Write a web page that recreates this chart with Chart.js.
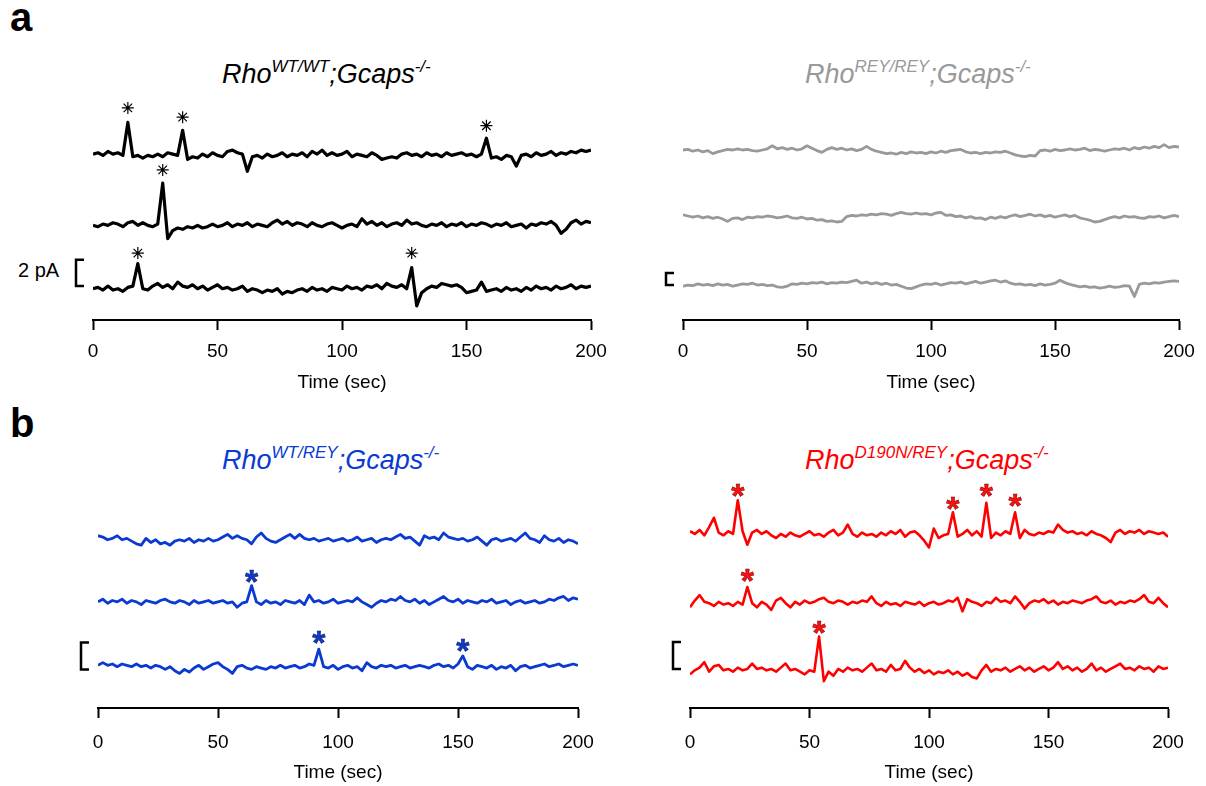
<!DOCTYPE html>
<html>
<head>
<meta charset="utf-8">
<script src="https://cdn.jsdelivr.net/npm/chart.js@4.4.1/dist/chart.umd.min.js"></script>
<style>
html, body { margin: 0; padding: 0; background: #fff; }
body { width: 1206px; height: 786px; position: relative; overflow: hidden; font-family: "Liberation Sans", Arial, sans-serif; }
canvas.panel { position: absolute; }
.lbl { position: absolute; font-weight: bold; font-size: 40px; line-height: 1; }
.ttl { position: absolute; font-style: italic; font-size: 27px; line-height: 1; white-space: nowrap; }
.ttl sup { font-size: 17px; vertical-align: baseline; position: relative; top: -11px; }
.bar { position: absolute; font-size: 20px; line-height: 1; }
</style>
</head>
<body>
<div class="lbl" style="left:10px;top:-3px;">a</div>
<div class="lbl" style="left:10px;top:403px;">b</div>

<div class="ttl" style="left:222px;top:61px;color:#000;">Rho<sup>WT/WT</sup>;Gcaps<sup>-/-</sup></div>
<div class="ttl" style="left:805px;top:61px;color:#999;">Rho<sup>REY/REY</sup>;Gcaps<sup>-/-</sup></div>
<div class="ttl" style="left:222px;top:447px;color:#0a3ad2;">Rho<sup>WT/REY</sup>;Gcaps<sup>-/-</sup></div>
<div class="ttl" style="left:805px;top:447px;color:#ff0000;">Rho<sup>D190N/REY</sup>;Gcaps<sup>-/-</sup></div>
<div class="bar" style="left:18px;top:260px;">2 pA</div>

<canvas class="panel" id="wtChart" width="640" height="400" style="left:0;top:0;"></canvas>
<canvas class="panel" id="reyChart" width="603" height="400" style="left:603px;top:0;"></canvas>
<canvas class="panel" id="hetChart" width="640" height="386" style="left:0;top:400px;"></canvas>
<canvas class="panel" id="d190Chart" width="603" height="386" style="left:603px;top:400px;"></canvas>

<script>
// ------------------------------------------------------
// sample times (sec) shared by every trace
// ------------------------------------------------------
const timeSec = [
  0, 2, 4, 6, 8, 10, 12, 14, 16, 18,
  20, 22, 24, 26, 28, 30, 32, 34, 36, 38,
  40, 42, 44, 46, 48, 50, 52, 54, 56, 58,
  60, 62, 64, 66, 68, 70, 72, 74, 76, 78,
  80, 82, 84, 86, 88, 90, 92, 94, 96, 98,
  100, 102, 104, 106, 108, 110, 112, 114, 116, 118,
  120, 122, 124, 126, 128, 130, 132, 134, 136, 138,
  140, 142, 144, 146, 148, 150, 152, 154, 156, 158,
  160, 162, 164, 166, 168, 170, 172, 174, 176, 178,
  180, 182, 184, 186, 188, 190, 192, 194, 196, 198,
  200
];

// ------------------------------------------------------
// current traces (pA, relative to each trace's baseline)
// ------------------------------------------------------
// a: Rho WT/WT
const wtTrace1 = [
  0.0, 0.1, -0.1, 0.2, 0.0, 0.1, -0.1, 2.4, -0.2, -0.1,
  -0.3, -0.1, -0.2, 0.0, -0.2, 0.1, 0.0, -0.1, 1.8, -0.4,
  -0.2, -0.3, 0.0, -0.2, 0.1, -0.1, -0.2, 0.2, 0.3, 0.1,
  0.0, -1.3, -0.2, -0.1, -0.3, 0.0, -0.2, -0.1, 0.1, -0.2,
  0.0, -0.1, 0.1, -0.2, 0.2, 0.0, 0.3, -0.1, 0.1, -0.1,
  0.0, 0.2, -0.2, 0.0, -0.1, -0.2, 0.1, -0.1, -0.4, -0.3,
  -0.2, -0.3, 0.0, 0.1, -0.1, 0.0, -0.2, 0.1, -0.1, 0.0,
  -0.2, 0.1, -0.1, 0.0, 0.1, -0.1, 0.0, -0.2, 0.0, 1.2,
  -0.3, -0.2, -0.4, -0.1, -0.2, -0.9, -0.1, 0.0, -0.2, 0.1,
  -0.1, 0.0, 0.2, -0.1, 0.1, 0.0, 0.2, 0.1, 0.3, 0.2,
  0.3
];
const wtTrace2 = [
  0.0, -0.1, 0.1, 0.0, 0.2, 0.1, -0.1, 0.2, 0.3, 0.0,
  0.2, 0.0, -0.1, 0.1, 3.2, -1.0, -0.4, -0.2, -0.3, -0.1,
  -0.2, 0.0, -0.2, -0.1, 0.1, -0.1, 0.0, 0.2, -0.1, 0.1,
  0.0, 0.2, -0.1, 0.1, 0.0, -0.1, 0.2, 0.4, 0.1, 0.3,
  0.0, 0.2, 0.1, -0.1, 0.2, 0.0, -0.1, 0.1, 0.2, 0.0,
  -0.2, 0.0, 0.1, -0.1, 0.5, 0.1, 0.3, 0.0, 0.2, -0.1,
  0.1, 0.2, 0.0, 0.4, 0.1, 0.2, 0.0, -0.1, 0.1, 0.0,
  0.2, -0.1, 0.1, 0.0, 0.2, -0.1, 0.1, 0.0, 0.2, 0.1,
  -0.1, 0.1, 0.0, 0.2, -0.1, 0.0, 0.1, -0.2, 0.1, 0.0,
  0.2, 0.1, 0.3, 0.0, -0.6, -0.3, 0.2, 0.4, 0.1, 0.3,
  0.2
];
const wtTrace3 = [
  0.0, 0.1, -0.1, 0.2, -0.1, 0.0, -0.2, 0.1, 0.2, 1.9,
  0.0, -0.1, 0.2, 0.4, 0.1, 0.3, 0.0, 0.5, 0.2, 0.1,
  0.3, 0.0, 0.2, -0.1, 0.1, 0.3, 0.0, 0.1, -0.1, 0.0,
  0.2, -0.2, 0.0, -0.1, -0.3, -0.1, -0.2, 0.0, -0.4, -0.2,
  -0.3, -0.1, 0.0, -0.2, 0.1, -0.1, 0.0, -0.2, 0.1, 0.0,
  -0.1, 0.2, 0.0, 0.1, -0.1, 0.2, 0.1, 0.3, 0.0, 0.4,
  0.2, 0.1, 0.3, 0.0, 1.6, -1.3, -0.3, 0.0, 0.2, 0.1,
  0.4, 0.3, 0.2, 0.3, 0.1, -0.3, -0.2, -0.1, 0.5, -0.2,
  -0.1, 0.0, -0.2, 0.1, -0.1, 0.0, -0.2, 0.1, -0.1, 0.2,
  0.0, 0.1, -0.1, 0.2, 0.0, 0.1, 0.3, 0.0, 0.2, 0.1,
  0.2
];

// a: Rho REY/REY
const reyTrace1 = [
  0.2, 0.3, 0.0, 0.2, -0.1, 0.1, -0.4, -0.1, 0.1, 0.3,
  0.2, 0.4, 0.2, 0.3, 0.1, 0.0, 0.2, 0.4, 0.9, 0.4,
  0.6, 0.3, 0.5, 0.2, 0.4, 0.9, 0.5, 0.1, -0.2, 0.3,
  0.6, 0.3, 0.5, 0.2, 0.4, 0.1, 0.3, 0.8, 0.3, 0.0,
  -0.2, -0.4, -0.3, -0.5, -0.2, -0.4, -0.1, -0.3, -0.2, -0.4,
  -0.1, -0.3, 0.0, -0.2, 0.1, 0.2, 0.3, -0.1, -0.3, -0.2,
  -0.4, -0.2, -0.3, -0.1, -0.2, 0.0, -0.3, -0.6, -0.8, -0.9,
  -0.7, -0.8, 0.1, 0.2, 0.0, 0.3, 0.1, 0.2, 0.4, 0.2,
  0.3, 0.5, 0.1, 0.3, 0.2, 0.0, 0.2, 0.4, 0.3, 0.5,
  0.2, 0.6, 0.4, 0.7, 0.5, 0.8, 0.6, 1.1, 0.6, 0.8,
  0.7
];
const reyTrace2 = [
  0.5, 0.3, 0.1, 0.3, 0.0, 0.2, -0.1, 0.1, -0.2, -0.6,
  -0.1, 0.0, -0.3, 0.1, 0.0, 0.2, 0.1, 0.3, 0.2, 0.0,
  0.1, 0.3, 0.0, -0.1, 0.1, -0.2, -0.1, -0.4, -0.3, -0.6,
  -0.5, -0.7, -0.6, 0.2, 0.4, 0.3, 0.5, 0.4, 0.6, 0.5,
  0.7, 0.6, 0.4, 0.7, 0.9, 0.7, 0.6, 0.8, 0.6, 0.7,
  0.5, 0.8, 0.9, 0.4, 0.5, 0.2, 0.3, 0.0, 0.2, -0.1,
  0.0, -0.3, 0.1, -0.1, 0.2, 0.0, 0.3, 0.5, 0.2, 0.4,
  0.6, 0.3, 0.5, 0.2, 0.4, 0.1, 0.3, 0.5, 0.2, 0.4,
  0.0, -0.2, -0.4, -0.7, -0.6, -0.3, 0.0, 0.2, 0.0, 0.3,
  0.1, 0.2, 0.0, -0.1, 0.2, 0.1, 0.3, 0.0, 0.2, 0.4,
  0.2
];
const reyTrace3 = [
  -0.2, 0.0, -0.1, 0.2, 0.0, 0.1, -0.1, 0.2, 0.0, 0.1,
  -0.2, 0.0, 0.2, 0.1, 0.3, 0.0, 0.1, -0.1, 0.0, -0.3,
  -0.4, -0.2, 0.2, 0.1, 0.3, 0.2, 0.4, 0.3, 0.5, 0.2,
  0.4, 0.3, 0.5, 0.4, 0.6, 0.8, 0.3, 0.5, 0.2, 0.4,
  0.1, 0.3, 0.0, 0.1, -0.2, -0.5, -0.6, -0.3, 0.0, 0.2,
  0.1, 0.3, 0.0, 0.2, 0.4, 0.3, 0.5, 0.2, 0.4, 0.6,
  0.3, 0.5, 0.7, 0.8, 0.5, 0.7, 0.3, 0.1, 0.2, 0.0,
  0.1, -0.1, 0.2, 0.0, 0.1, 0.3, 0.8, 0.4, 0.1, -0.1,
  -0.3, -0.2, -0.4, -0.3, -0.5, -0.4, -0.2, -0.4, -0.3, -0.1,
  -0.2, -1.9, 0.1, 0.3, 0.2, 0.4, 0.3, 0.5, 0.6, 0.7,
  0.6
];

// b: Rho WT/REY
const hetTrace1 = [
  0.3, 0.2, 0.0, 0.1, 0.3, 0.0, 0.1, -0.1, -0.3, -0.4,
  0.1, -0.2, 0.0, -0.3, -0.2, -0.4, -0.1, 0.0, -0.1, 0.1,
  -0.2, 0.0, -0.1, 0.1, -0.1, 0.0, 0.2, 0.4, 0.1, 0.3,
  0.1, 0.0, -0.3, 0.2, 0.5, 0.1, -0.1, -0.2, 0.0, 0.2,
  0.4, 0.1, 0.4, 0.1, 0.0, 0.1, -0.1, 0.0, 0.1, -0.1,
  0.0, 0.1, -0.1, 0.0, 0.2, -0.1, 0.0, 0.1, -0.2, 0.0,
  0.1, 0.0, 0.2, 0.4, 0.1, 0.2, -0.1, -0.4, 0.3, 0.1,
  0.2, 0.0, 0.5, 0.2, 0.1, 0.0, 0.1, -0.1, 0.0, 0.2,
  -0.1, -0.4, 0.0, 0.1, -0.1, 0.0, 0.1, -0.1, 0.2, 0.5,
  0.1, 0.0, -0.2, 0.3, 0.0, -0.1, 0.1, -0.2, 0.0, -0.1,
  -0.3
];
const hetTrace2 = [
  0.0, 0.2, -0.1, 0.1, 0.0, 0.2, -0.1, 0.1, 0.0, -0.2,
  0.1, 0.0, -0.1, 0.1, 0.2, 0.0, -0.1, 0.1, 0.0, -0.2,
  0.1, -0.1, 0.0, 0.1, -0.1, 0.0, 0.1, -0.1, 0.0, -0.4,
  -0.1, 0.0, 1.2, 0.0, -0.2, 0.1, -0.1, 0.0, -0.2, 0.1,
  0.0, -0.1, 0.1, -0.2, 0.5, 0.0, 0.1, -0.1, 0.0, 0.2,
  -0.1, 0.0, 0.1, 0.0, 0.3, 0.0, -0.2, -0.4, -0.1, 0.1,
  0.0, 0.2, 0.1, 0.4, 0.1, 0.0, 0.2, -0.1, 0.1, -0.2,
  0.0, 0.2, 0.4, 0.1, 0.0, 0.2, -0.1, 0.1, 0.0, -0.1,
  0.1, 0.0, 0.2, -0.1, 0.0, 0.1, -0.2, 0.0, 0.1, -0.1,
  0.0, 0.1, -0.1, 0.0, 0.2, 0.1, 0.3, 0.4, 0.1, 0.3,
  0.2
];
const hetTrace3 = [
  0.1, 0.3, 0.1, 0.2, 0.0, 0.2, 0.1, 0.0, 0.2, 0.0,
  0.1, -0.1, 0.1, 0.0, -0.2, 0.0, -0.3, -0.5, -0.2, -0.4,
  -0.1, 0.1, -0.2, 0.0, 0.2, 0.3, 0.0, -0.2, -0.5, 0.0,
  0.1, -0.1, -0.2, 0.0, -0.1, -0.2, 0.0, -0.1, 0.1, -0.1,
  0.0, 0.1, -0.1, 0.0, 0.2, 0.1, 1.3, 0.0, -0.1, 0.1,
  -0.2, 0.0, 0.1, -0.1, 0.0, -0.3, 0.3, 0.0, -0.1, 0.1,
  0.0, 0.1, -0.1, 0.0, 0.1, -0.1, 0.0, 0.1, 0.0, -0.1,
  0.1, 0.2, 0.0, 0.1, -0.1, 0.2, 0.8, 0.0, -0.2, 0.1,
  0.0, -0.1, 0.1, -0.2, 0.0, -0.1, 0.1, -0.3, 0.0, 0.1,
  -0.1, 0.0, 0.1, 0.2, 0.0, 0.1, 0.2, 0.0, 0.1, 0.2,
  0.1
];

// b: Rho D190N/REY
const d190Trace1 = [
  0.3, 0.1, 0.4, 0.0, 0.6, 1.3, 0.2, 0.0, 0.3, 0.1,
  2.6, 0.3, -0.7, 0.2, 0.4, 0.1, 0.3, 0.0, -0.2, 0.1,
  -0.1, 0.2, 0.0, -0.1, 0.1, 0.3, 0.0, 0.1, -0.1, 0.2,
  0.4, 0.0, 0.2, 0.8, 0.1, -0.1, 0.2, 0.0, 0.1, -0.1,
  0.2, 0.0, 0.3, 0.1, 0.4, -0.1, 0.2, 0.3, 0.0, -0.4,
  -0.9, 0.5, -0.2, 0.0, 0.1, 1.7, -0.1, 0.1, 0.4, 0.0,
  0.3, -0.1, 2.4, -0.2, 0.2, 0.0, 0.3, 0.1, 1.7, -0.2,
  0.4, 0.1, 0.0, 0.2, 0.1, 0.3, 0.2, 0.8, 0.4, 0.2,
  0.3, 0.1, 0.2, 0.0, 0.3, 0.1, 0.0, -0.2, -0.5, 0.2,
  0.4, 0.1, 0.3, 0.2, 0.4, 0.1, 0.3, 0.2, 0.1, 0.2,
  -0.1
];
const d190Trace2 = [
  -0.3, 0.2, 0.6, 0.1, 0.0, -0.2, 0.1, -0.1, 0.0, -0.2,
  0.1, -0.1, 1.2, 0.0, -0.3, 0.1, -0.1, -0.5, 0.2, 0.4,
  0.0, -0.3, 0.1, -0.1, 0.2, 0.0, 0.1, 0.3, 0.4, 0.1,
  0.0, 0.2, 0.1, -0.1, 0.1, 0.0, 0.2, 0.1, 0.5, 0.0,
  -0.2, 0.1, -0.1, 0.0, -0.2, 0.1, 0.0, -0.1, 0.1, -0.2,
  0.0, 0.1, -0.1, 0.0, 0.2, 0.1, 0.4, -0.6, 0.3, 0.1,
  0.0, -0.2, 0.1, 0.0, 0.4, 0.1, 0.2, 0.0, 0.5, 0.1,
  -0.4, 0.0, 0.2, 0.1, 0.3, 0.0, 0.2, -0.1, 0.1, 0.0,
  0.2, 0.1, 0.0, 0.2, 0.3, 0.5, 0.1, 0.0, 0.2, -0.1,
  0.1, 0.0, 0.2, 0.1, 0.3, 0.6, 0.1, 0.0, 0.4, 0.0,
  -0.3
];
const d190Trace3 = [
  -0.2, 0.1, 0.3, 0.7, 0.0, 0.4, 0.5, 0.1, 0.2, 0.0,
  0.3, 0.1, 0.2, 0.6, 0.2, 0.3, 0.1, 0.2, 0.0, 0.3,
  0.6, 0.1, 0.2, 0.0, -0.2, 0.1, 0.0, 2.6, -0.7, 0.0,
  -0.3, 0.2, 0.0, 0.3, 0.1, 0.2, 0.0, 0.3, 0.6, 0.1,
  0.2, 0.0, 0.5, 0.1, 0.2, 0.8, 0.3, 0.0, 0.2, -0.1,
  0.1, -0.2, 0.0, -0.1, 0.1, -0.2, 0.0, -0.3, -0.1, -0.4,
  -0.5, 0.1, 0.5, 0.0, 0.2, 0.1, 0.3, 0.0, 0.2, 0.4,
  0.1, 0.3, 0.0, 0.2, 0.4, 0.1, 0.3, 0.7, 0.2, 0.4,
  0.1, 0.3, 0.0, 0.2, 0.6, 0.1, 0.3, 0.0, 0.2, 0.4,
  0.6, 0.2, 0.3, 0.1, 0.4, 0.2, 0.3, 0.0, 0.4, 0.2,
  0.3
];

// ------------------------------------------------------
// event markers: trace index, time (sec), height above baseline (pA)
// ------------------------------------------------------
const wtEvents = [
  { trace: 0, t: 14, h: 3.5 }, { trace: 0, t: 36, h: 2.8 }, { trace: 0, t: 158, h: 2.15 },
  { trace: 1, t: 28, h: 4.2 },
  { trace: 2, t: 18, h: 2.7 }, { trace: 2, t: 128, h: 2.7 }
];
const hetEvents = [
  { trace: 1, t: 64, h: 2.1 },
  { trace: 2, t: 92, h: 2.35 }, { trace: 2, t: 152, h: 1.75 }
];
const d190Events = [
  { trace: 0, t: 20, h: 3.5 }, { trace: 0, t: 110, h: 2.55 }, { trace: 0, t: 124, h: 3.55 }, { trace: 0, t: 136, h: 2.8 },
  { trace: 1, t: 24, h: 2.25 },
  { trace: 2, t: 54, h: 3.5 }
];

// scale bar: 2 pA
const scaleBarPA = 2;

Chart.defaults.font.family = '"Liberation Sans", Arial, sans-serif';
Chart.defaults.color = '#000';

// ------------------------------------------------------
// PLUGINS: scale bracket + bold asterisks
// ------------------------------------------------------
const scaleBarPlugin = {
    id: "scaleBar",
    afterDatasetsDraw(chart, args, opts) {
        const { ctx, chartArea, scales: { y } } = chart;
        const yBot = y.getPixelForValue(opts.from);
        const yTop = y.getPixelForValue(opts.from + scaleBarPA);
        const x = chartArea.left - 17;
        ctx.save();
        ctx.strokeStyle = "#000";
        ctx.lineWidth = 2.5;
        ctx.beginPath();
        ctx.moveTo(x + 8, yTop);
        ctx.lineTo(x, yTop);
        ctx.lineTo(x, yBot);
        ctx.lineTo(x + 8, yBot);
        ctx.stroke();
        ctx.restore();
    }
};

const asteriskPlugin = {
    id: "asterisk",
    afterDatasetsDraw(chart, args, opts) {
        if (!opts.marks) return;
        const { ctx, scales: { x, y } } = chart;
        ctx.save();
        ctx.font = `bold ${opts.size}px "Liberation Sans", Arial, sans-serif`;
        ctx.textAlign = "center";
        ctx.textBaseline = "alphabetic";
        opts.marks.forEach(m => {
            const px = x.getPixelForValue(m.t);
            const py = y.getPixelForValue(m.h + opts.offsets[m.trace]) + opts.size * 0.57;
            ctx.fillStyle = opts.color;
            ctx.fillText("*", px, py);
            ctx.lineWidth = 0.5;
            ctx.strokeStyle = opts.edge;
            ctx.strokeText("*", px, py);
        });
        ctx.restore();
    }
};

// ------------------------------------------------------
// PANEL BUILDER
// ------------------------------------------------------
function buildPanel(p) {
    const datasets = p.traces.map((vals, i) => ({
        type: "line",
        data: vals.map((v, j) => ({ x: timeSec[j], y: v + p.offsets[i] })),
        borderColor: p.color,
        borderWidth: p.width,
        borderJoinStyle: "round",
        pointRadius: 0,
        tension: 0,
        fill: false
    }));

    if (p.starPoints) {
        datasets.push({
            type: "scatter",
            data: p.starPoints.map(m => ({ x: m.t, y: m.h + p.offsets[m.trace] })),
            pointStyle: "star",
            pointRadius: 6,
            borderColor: "#000",
            borderWidth: 1.2,
            backgroundColor: "transparent",
            showLine: false
        });
    }

    return new Chart(document.getElementById(p.id), {
        type: "line",
        data: { datasets },
        plugins: [scaleBarPlugin, asteriskPlugin],
        options: {
            responsive: false,
            animation: false,
            events: [],
            layout: { padding: { left: p.padLeft, right: p.padRight, top: 0, bottom: 0 } },
            plugins: {
                legend: { display: false },
                tooltip: { enabled: false },
                scaleBar: { from: p.barFrom },
                asterisk: p.textStars ? { marks: p.textStars, offsets: p.offsets, color: p.starColor, edge: p.starEdge, size: 34 } : {}
            },
            scales: {
                x: {
                    type: "linear",
                    min: 0,
                    max: 200,
                    afterFit: s => { s.height = p.axisH; },
                    border: { display: true, color: "#000", width: 2 },
                    grid: { display: true, drawOnChartArea: false, drawTicks: true, tickLength: 10, tickWidth: 2, tickColor: "#000" },
                    ticks: { stepSize: 50, color: "#000", font: { size: 19 }, padding: p.tickPad, maxRotation: 0 },
                    title: { display: true, text: "Time (sec)", color: "#000", font: { size: 19 }, padding: { top: 0, bottom: p.titlePad } }
                },
                y: { display: false, min: p.yMin, max: p.yMax }
            }
        }
    });
}

// a - WT/WT (black)
buildPanel({
    id: "wtChart", traces: [wtTrace1, wtTrace2, wtTrace3], offsets: [10.2, 4.8, 0],
    color: "#000", width: 3.2, yMin: -2.37, yMax: 21.33,
    padLeft: 93, padRight: 49, axisH: 80, tickPad: 10, titlePad: 6, barFrom: 0.2,
    starPoints: wtEvents
});

// a - REY/REY (gray)
buildPanel({
    id: "reyChart", traces: [reyTrace1, reyTrace2, reyTrace3], offsets: [22.3, 11.2, 0],
    color: "#999999", width: 2.8, yMin: -5.83, yMax: 47.5,
    padLeft: 80, padRight: 27, axisH: 80, tickPad: 10, titlePad: 6, barFrom: 0
});

// b - WT/REY (blue)
buildPanel({
    id: "hetChart", traces: [hetTrace1, hetTrace2, hetTrace3], offsets: [9.4, 4.8, 0],
    color: "#0a3ad2", width: 2.8, yMin: -3.06, yMax: 19.75,
    padLeft: 98, padRight: 62, axisH: 78, tickPad: 13, titlePad: 2, barFrom: -0.2,
    textStars: hetEvents, starColor: "#1238c8", starEdge: "#0a1a60"
});

// b - D190N/REY (red)
buildPanel({
    id: "d190Chart", traces: [d190Trace1, d190Trace2, d190Trace3], offsets: [10.1, 5.07, 0],
    color: "#ff0000", width: 2.6, yMin: -2.69, yMax: 20.12,
    padLeft: 87, padRight: 38, axisH: 78, tickPad: 13, titlePad: 2, barFrom: 0.2,
    textStars: d190Events, starColor: "#ff1010", starEdge: "#700000"
});
</script>
</body>
</html>
